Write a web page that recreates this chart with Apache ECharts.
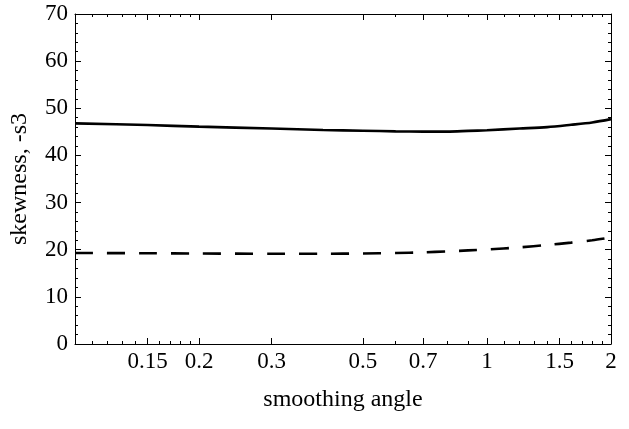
<!DOCTYPE html>
<html>
<head>
<meta charset="utf-8">
<script src="https://cdn.jsdelivr.net/npm/echarts@6/dist/echarts.min.js"></script>
<style>html,body{margin:0;padding:0;background:#fff}#c{width:629px;height:429px}</style>
</head>
<body>
<div id="c"></div>
<script>
const angles = [0.1, 0.15, 0.2, 0.3, 0.4, 0.5, 0.6, 0.7, 0.8, 0.9, 1.0, 1.2, 1.4, 1.6, 1.8, 2.0];
const solidSkew = [46.8, 46.45, 46.1, 45.7, 45.4, 45.25, 45.1, 45.05, 45.05, 45.2, 45.35, 45.7, 46.0, 46.5, 47.0, 47.7];
const dashedSkew = [19.3, 19.25, 19.2, 19.15, 19.15, 19.2, 19.3, 19.45, 19.65, 19.85, 20.05, 20.5, 21.0, 21.5, 22.0, 22.6];
const xMajorTicks = [0.15, 0.2, 0.3, 0.5, 0.7, 1, 1.5, 2];
const xMinorTicks = [0.11, 0.12, 0.13, 0.14, 0.16, 0.17, 0.18, 0.19, 0.6, 0.8, 0.9, 1.1, 1.2, 1.3, 1.4, 1.6, 1.7, 1.8, 1.9];
const xRange = [0.1, 2];
const yTicks = [0, 10, 20, 30, 40, 50, 60, 70];

const lg = v => Math.log10(v);
const font = '"Liberation Serif", "DejaVu Serif", serif';
const black = '#000';

function xAxisDef(pos, ticks, len, showLabel, showLine) {
  return {
    type: 'value', position: pos,
    min: lg(xRange[0]), max: lg(xRange[1]),
    splitLine: {show: false},
    axisLine: {show: showLine, onZero: false, lineStyle: {color: black, width: 1}},
    axisTick: {show: true, inside: true, length: len, customValues: ticks.map(lg), lineStyle: {color: black, width: 1}},
    axisLabel: showLabel ? {
      show: true, customValues: ticks.map(lg), margin: 6,
      fontFamily: font, fontSize: 23, color: black,
      formatter: v => String(Math.round(Math.pow(10, v) * 100) / 100)
    } : {show: false},
    minorTick: {show: false}
  };
}

const xAxes = [
  Object.assign(xAxisDef('bottom', xMajorTicks, 6, true, true), {
    name: 'smoothing angle', nameLocation: 'middle', nameGap: 44,
    nameTextStyle: {fontFamily: font, fontSize: 24, color: black}
  }),
  xAxisDef('bottom', xMinorTicks, 3, false, false),
  xAxisDef('top', xMajorTicks, 6, false, true),
  xAxisDef('top', xMinorTicks, 3, false, false)
];

function yAxisDef(pos, showLabel) {
  return {
    type: 'value', position: pos,
    min: yTicks[0], max: yTicks[yTicks.length - 1], interval: 10,
    splitLine: {show: false},
    axisLine: {show: true, onZero: false, lineStyle: {color: black, width: 1}},
    axisTick: {show: true, inside: true, length: 6, lineStyle: {color: black, width: 1}},
    minorTick: {show: true, splitNumber: 5, length: 3, lineStyle: {color: black, width: 1}},
    axisLabel: showLabel ? {show: true, margin: 7, fontFamily: font, fontSize: 23, color: black} : {show: false}
  };
}

const yAxes = [
  Object.assign(yAxisDef('left', true), {
    name: 'skewness, -s3', nameLocation: 'middle', nameGap: 43,
    nameTextStyle: {fontFamily: font, fontSize: 24, color: black}
  }),
  yAxisDef('right', false)
];

const chart = echarts.init(document.getElementById('c'), null, {renderer: 'canvas'});
chart.setOption({
  animation: false,
  backgroundColor: '#fff',
  grid: {left: 75, right: 18, top: 14, bottom: 85, containLabel: false, outerBoundsMode: 'none'},
  xAxis: xAxes,
  yAxis: yAxes,
  series: [
    {
      type: 'line', xAxisIndex: 0, yAxisIndex: 0, smooth: 0.3, showSymbol: false,
      data: angles.map((a, i) => [lg(a), solidSkew[i]]),
      lineStyle: {color: black, width: 2.6}
    },
    {
      type: 'line', xAxisIndex: 0, yAxisIndex: 0, smooth: 0.3, showSymbol: false,
      data: angles.map((a, i) => [lg(a), dashedSkew[i]]),
      lineStyle: {color: black, width: 2.6, type: [18, 14]}
    }
  ]
});
</script>
</body>
</html>
